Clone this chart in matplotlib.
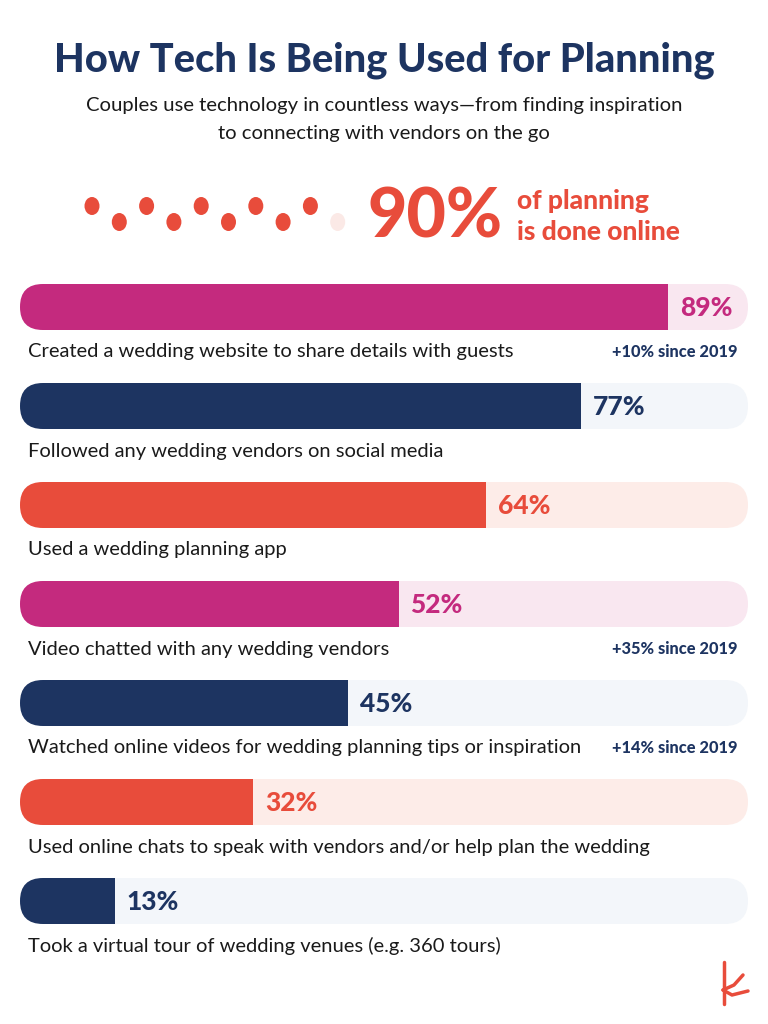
import matplotlib
matplotlib.use("Agg")
import matplotlib.pyplot as plt
from matplotlib.patches import FancyBboxPatch, Rectangle, Ellipse

# Daten
labels = [
    "Created a wedding website to share details with guests",
    "Followed any wedding vendors on social media",
    "Used a wedding planning app",
    "Video chatted with any wedding vendors",
    "Watched online videos for wedding planning tips or inspiration",
    "Used online chats to speak with vendors and/or help plan the wedding",
    "Took a virtual tour of wedding venues (e.g. 360 tours)",
]
values = [89, 77, 64, 52, 45, 32, 13]
changes = ["+10% since 2019", "", "", "+35% since 2019", "+14% since 2019", "", ""]
online_share = 90

# Farben
NAVY = "#1d3461"
MAGENTA = "#c42a7e"
ORANGE = "#e84c3b"
bar_colors = [MAGENTA, NAVY, ORANGE, MAGENTA, NAVY, ORANGE, NAVY]
bg_colors = {MAGENTA: "#f9e7f0", NAVY: "#f3f6fa", ORANGE: "#fdece8"}
TEXT = "#1a1a1a"

plt.rcParams["font.family"] = ["Lato", "DejaVu Sans"]

fig = plt.figure(figsize=(7.68, 10.24), dpi=100)
ax = fig.add_axes([0, 0, 1, 1])
ax.set_xlim(0, 768)
ax.set_ylim(1024, 0)
ax.axis("off")

# Titel
ax.text(384, 60, "How Tech Is Being Used for Planning", ha="center", va="center",
        fontsize=28.7, fontweight="black", color=NAVY)
ax.text(384, 105, "Couples use technology in countless ways\u2014from finding inspiration",
        ha="center", va="center", fontsize=14.6, color=TEXT)
ax.text(384, 133, "to connecting with vendors on the go",
        ha="center", va="center", fontsize=14.6, color=TEXT)

# Punkte: 9 von 10 gefuellt
n_dots = 10
for i in range(n_dots):
    x = 92 + i * 27.3
    y = 206 if i % 2 == 0 else 222
    c = ORANGE if i < online_share // 10 else "#fbe9e6"
    ax.add_patch(Ellipse((x, y), 15, 18, color=c, lw=0))

ax.text(368, 218, f"{online_share}%", ha="left", va="center", fontsize=49,
        fontweight="black", color=ORANGE)
ax.text(517, 201, "of planning", ha="left", va="center", fontsize=19,
        fontweight="black", color=ORANGE)
ax.text(517, 232, "is done online", ha="left", va="center", fontsize=19,
        fontweight="black", color=ORANGE)

# Balken
x0, x1 = 20, 748
width = x1 - x0
bar_h = 46
r = bar_h / 2
top0 = 284
step = 99

for i, (lab, v, ch, c) in enumerate(zip(labels, values, changes, bar_colors)):
    top = top0 + i * step
    # Hintergrund
    ax.add_patch(FancyBboxPatch((x0, top), width, bar_h,
                                boxstyle=f"round,pad=0,rounding_size={r}",
                                fc=bg_colors[c], ec="none"))
    xe = x0 + width * v / 100
    ax.add_patch(FancyBboxPatch((x0, top), 2 * r, bar_h,
                                boxstyle=f"round,pad=0,rounding_size={r}",
                                fc=c, ec="none"))
    ax.add_patch(Rectangle((x0 + r, top), xe - x0 - r, bar_h, fc=c, ec="none"))
    ax.text(xe + 12, top + bar_h / 2 + 1, f"{v}%", ha="left", va="center",
            fontsize=19, fontweight="black", color=c)
    ax.text(28, top + 68, lab, ha="left", va="center", fontsize=14.5, color=TEXT)
    if ch:
        ax.text(737, top + 68, ch, ha="right", va="center", fontsize=11.8,
                fontweight="black", color=NAVY)

# Logo "k"
ax.plot([724, 724], [962, 1004], color=ORANGE, lw=2.5, solid_capstyle="round")
ax.plot([743, 734, 723], [975, 985, 990], color=ORANGE, lw=2.5,
        solid_capstyle="round", solid_joinstyle="round")
ax.plot([723, 732, 748], [990, 995, 991], color=ORANGE, lw=2.5,
        solid_capstyle="round", solid_joinstyle="round")

fig.savefig("out.png", dpi=100)
